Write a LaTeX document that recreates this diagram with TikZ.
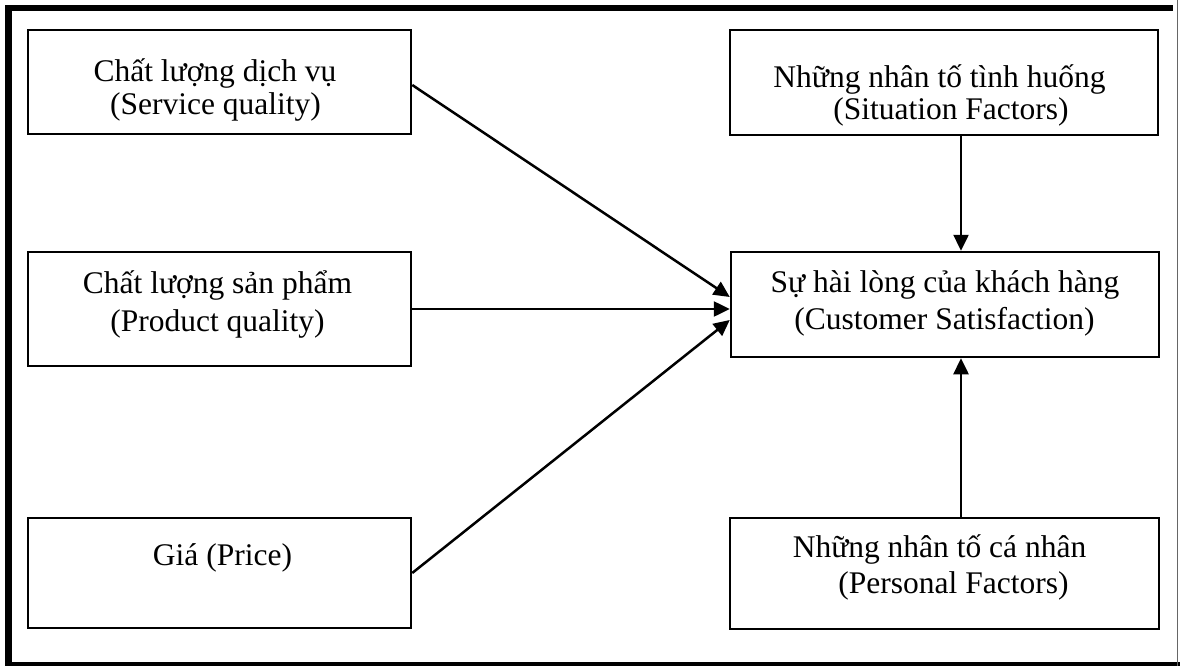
\documentclass[tikz,border=0pt]{standalone}
\usepackage{fontspec}
\setmainfont{Liberation Serif}
\usetikzlibrary{arrows.meta}
\begin{document}
\begin{tikzpicture}[x=1pt,y=-1pt,
  box/.style={draw, line width=2.5pt, inner sep=0pt, rectangle},
  lbl/.style={anchor=base, inner sep=0pt, font=\fontsize{31.5}{36}\selectfont},
  link/.style={line width=2.5pt, -{Triangle[length=16pt,width=15pt]}}]
\useasboundingbox (0,0) rectangle (1180,666);
% page frame
\fill (5,5) rectangle (10.5,666);
\fill (5,5) rectangle (1173,11.5);
\fill (5,662) rectangle (1180,666);
\draw[line width=0.8pt] (11.8,11.5) -- (11.8,662);
\draw[line width=1pt, black!60] (1177.5,0) -- (1177.5,666);

% factor boxes on the left
\node[box, minimum width=383pt, minimum height=104pt] (sq) at (219.5,82) {};
\node[box, minimum width=383pt, minimum height=114pt] (pq) at (219.5,309) {};
\node[box, minimum width=383pt, minimum height=110pt] (pr) at (219.5,573) {};
% boxes on the right
\node[box, minimum width=428pt, minimum height=105pt] (sf) at (944,82.5) {};
\node[box, minimum width=428pt, minimum height=105pt] (cs) at (945,304.5) {};
\node[box, minimum width=429pt, minimum height=111pt] (pf) at (944.5,573.5) {};

% labels
\node[lbl] (sq1) at (215,82) {Chất lượng dịch vụ};
\node[lbl] (sq2) at (215.5,114) {(Service quality)};
\node[lbl] (pq1) at (217.5,293) {Chất lượng sản phẩm};
\node[lbl] (pq2) at (217.5,331) {(Product quality)};
\node[lbl] (pr1) at (222.5,565) {Giá (Price)};
\node[lbl] (sf1) at (939.5,88) {Những nhân tố tình huống};
\node[lbl] (sf2) at (951,120) {(Situation Factors)};
\node[lbl] (cs1) at (945,292) {Sự hài lòng của khách hàng};
\node[lbl] (cs2) at (944.5,329) {(Customer Satisfaction)};
\node[lbl] (pf1) at (939.5,557) {Những nhân tố cá nhân};
\node[lbl] (pf2) at (953.5,593) {(Personal Factors)};

% connectors
\draw[link] ([yshift=-3pt]sq.east) -- ([yshift=7.5pt]cs.west);
\draw[link] (pq.east) -- ([yshift=-4.5pt]cs.west);
\draw[link] (pr.east) -- ([yshift=-15.5pt]cs.west);
\draw[link] ([xshift=17pt]sf.south) -- ([xshift=16pt]cs.north);
\draw[link] ([xshift=16.5pt]pf.north) -- ([xshift=16pt]cs.south);
\end{tikzpicture}
\end{document}
